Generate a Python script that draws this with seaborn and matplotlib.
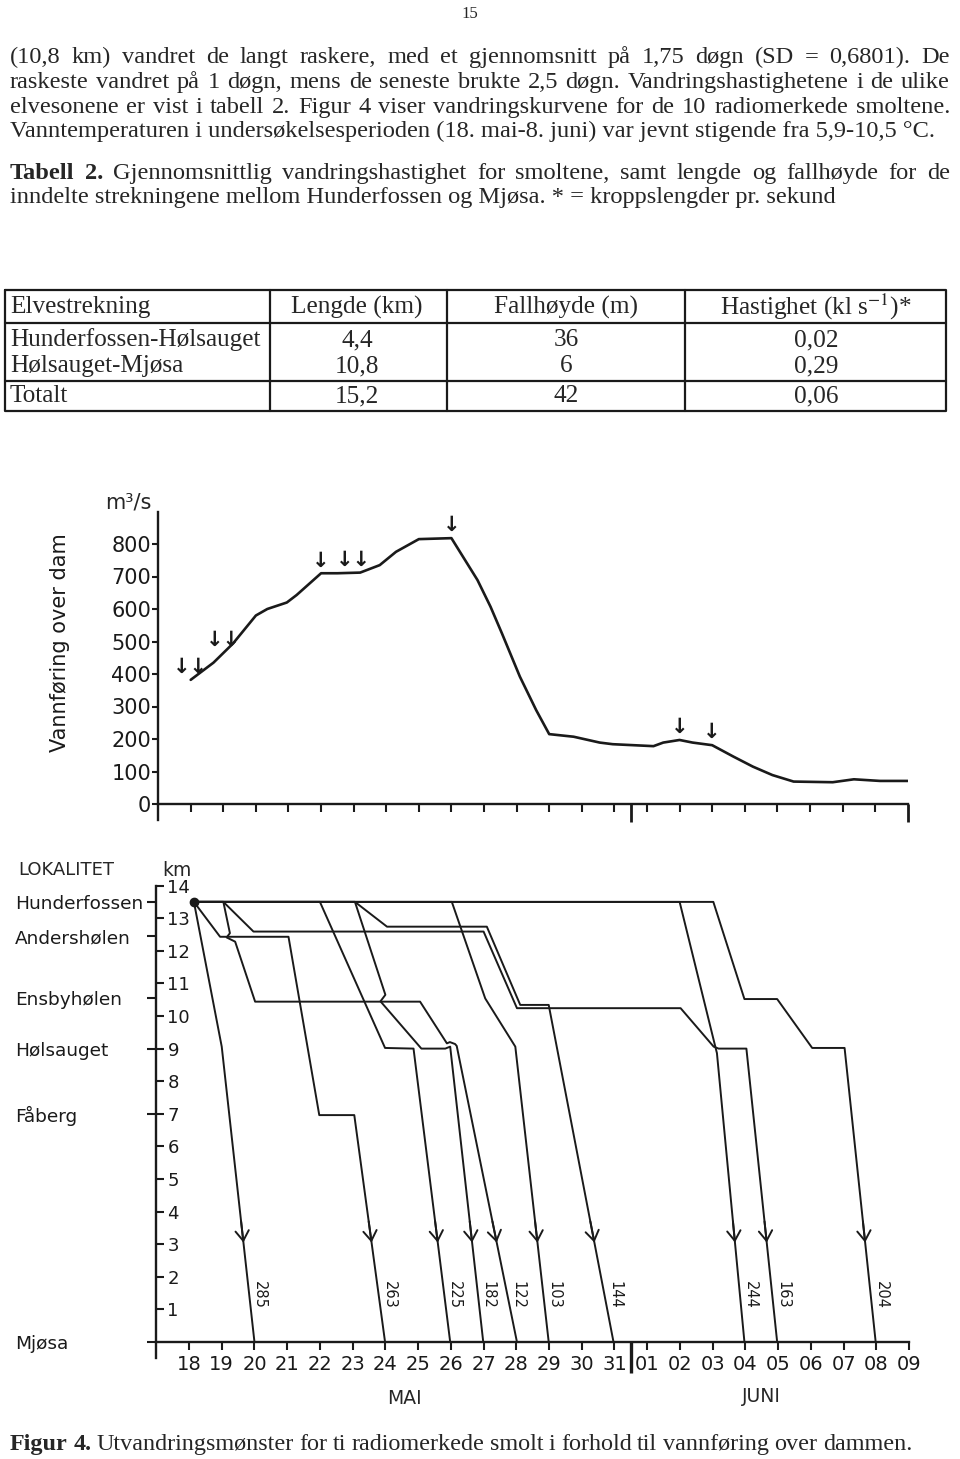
import numpy as np
import matplotlib
matplotlib.use("Agg")
import matplotlib.pyplot as plt
import seaborn as sns

sns.set_theme(style="ticks")
plt.rcParams["font.family"] = ["DejaVu Sans"]
plt.rcParams["mathtext.fontset"] = "stix"

W, H = 960, 1459
SERIF = "Liberation Serif"

# ---- page text ----
page_no = "15"
para_lines = [
    "(10,8 km) vandret de langt raskere, med et gjennomsnitt på 1,75 døgn (SD = 0,6801). De",
    "raskeste vandret på 1 døgn, mens de seneste brukte 2,5 døgn. Vandringshastighetene i de ulike",
    "elvesonene er vist i tabell 2. Figur 4 viser vandringskurvene for de 10 radiomerkede smoltene.",
    "Vanntemperaturen i undersøkelsesperioden (18. mai-8. juni) var jevnt stigende fra 5,9-10,5 °C.",
]
tab_caption = [
    "Tabell 2. Gjennomsnittlig vandringshastighet for smoltene, samt lengde og fallhøyde for de",
    "inndelte strekningene mellom Hunderfossen og Mjøsa. * = kroppslengder pr. sekund",
]
fig_caption = "Figur 4. Utvandringsmønster for ti radiomerkede smolt i forhold til vannføring over dammen."

# ---- table 2 ----
tab_header = ["Elvestrekning", "Lengde (km)", "Fallhøyde (m)", r"Hastighet (kl s$^{-1}$)*"]
strekning = ["Hunderfossen-Hølsauget", "Hølsauget-Mjøsa", "Totalt"]
lengde_km = ["4,4", "10,8", "15,2"]
fallhoyde_m = ["36", "6", "42"]
hastighet = ["0,02", "0,29", "0,06"]

# ---- x axis: day index 0 = 18 mai ... 22 = 09 juni ----
day_labels = ["18", "19", "20", "21", "22", "23", "24", "25", "26", "27", "28", "29", "30", "31",
              "01", "02", "03", "04", "05", "06", "07", "08", "09"]

# ---- discharge over the dam (m3/s) ----
flow_day = [0.0, 0.7, 1.3, 2.0, 2.35, 2.95, 3.25, 4.0, 4.5, 5.2, 5.8, 6.3, 7.0, 8.0, 8.8, 9.2,
            9.55, 10.1, 10.6, 11.0, 11.75, 12.55, 12.95, 14.2, 14.5, 15.0, 15.4, 16.0, 16.65,
            17.25, 17.85, 18.5, 19.7, 20.35, 21.15, 22.0]
flow_m3s = [382, 435, 494, 580, 600, 620, 643, 710, 710, 712, 735, 776, 815, 818, 689, 607,
            525, 392, 289, 215, 207, 189, 184, 178, 189, 197, 189, 181, 146, 115,
            89, 69, 67, 76, 71, 71]

# departures from the dam (arrows on the discharge curve)
dep_day = [0, 1, 4, 5, 8, 15, 16]
dep_count = [2, 2, 1, 2, 1, 1, 1]

# ---- localities ----
loc_names = ["Hunderfossen", "Andershølen", "Ensbyhølen", "Hølsauget", "Fåberg", "Mjøsa"]
loc_km = [13.5, 12.45, 10.55, 9.0, 7.0, 0.0]

# ---- migration tracks of the 10 tagged smolts (day index, km) ----
fish_ids = ["285", "263", "225", "182", "122", "103", "144", "244", "163", "204"]
fish_days = {
    "285": [0.15, 1.0, 2.0],
    "263": [0.15, 0.95, 3.04, 3.98, 5.05, 5.99],
    "225": [0.15, 4.0, 5.99, 6.86, 7.98],
    "182": [0.15, 5.07, 6.0, 5.85, 7.1, 7.83, 7.98, 8.99],
    "122": [0.15, 1.05, 1.25, 1.15, 1.41, 2.02, 7.06, 7.88, 7.97, 8.13, 8.18, 10.02],
    "103": [0.15, 8.03, 9.05, 9.97, 10.99],
    "144": [0.15, 5.07, 6.05, 9.1, 10.12, 10.99, 12.97],
    "244": [0.15, 14.99, 16.08, 16.13, 16.97],
    "163": [0.15, 1.05, 1.97, 9.0, 10.02, 15.02, 16.03, 16.18, 17.03, 17.97],
    "204": [0.15, 16.02, 16.97, 17.97, 19.04, 20.03, 20.98],
}
fish_km = {
    "285": [13.5, 9.06, 0],
    "263": [13.5, 12.43, 12.43, 6.96, 6.96, 0],
    "225": [13.5, 13.5, 9.02, 9.0, 0],
    "182": [13.5, 13.5, 10.65, 10.45, 9.0, 9.0, 9.06, 0],
    "122": [13.5, 13.5, 12.54, 12.41, 12.28, 10.44, 10.44, 9.16, 9.2, 9.14, 9.08, 0],
    "103": [13.5, 13.5, 10.54, 9.06, 0],
    "144": [13.5, 13.5, 12.74, 12.74, 10.34, 10.34, 0],
    "244": [13.5, 13.5, 9.06, 8.86, 0],
    "163": [13.5, 13.5, 12.59, 12.59, 10.24, 10.24, 9.06, 9.0, 9.0, 0],
    "204": [13.5, 13.5, 10.52, 10.52, 9.02, 9.02, 0],
}

fig = plt.figure(figsize=(W / 100, H / 100), dpi=100, facecolor="white")
renderer = fig.canvas.get_renderer()

# full page axes in pixel coordinates for the text and the table
page = fig.add_axes([0, 0, 1, 1], zorder=0)
page.set_xlim(0, W)
page.set_ylim(H, 0)
page.axis("off")


def width_px(s, **kw):
    t = page.text(0, 0, s, **kw)
    w = t.get_window_extent(renderer).width
    t.remove()
    return w


def justify(s, y, x0, x1, fs, n_bold=0):
    words = s.split(" ")
    arts = [page.text(0, y, w, fontsize=fs, family=SERIF, va="baseline",
                      fontweight="bold" if k < n_bold else "normal")
            for k, w in enumerate(words)]
    widths = [a.get_window_extent(renderer).width for a in arts]
    gap = (x1 - x0 - sum(widths)) / (len(words) - 1)
    x = x0
    for a, w in zip(arts, widths):
        a.set_x(x)
        x += w + gap


page.text(470, 18, page_no, fontsize=12, family=SERIF, ha="center", va="baseline")

body_fs = 15 * 930 / width_px(para_lines[3], fontsize=15, family=SERIF)
for k, y in enumerate([63, 88, 113]):
    justify(para_lines[k], y, 10, 950, body_fs)
page.text(10, 137, para_lines[3], fontsize=body_fs, family=SERIF, va="baseline")
justify(tab_caption[0], 179, 10, 950, body_fs, n_bold=2)
page.text(10, 203, tab_caption[1], fontsize=body_fs, family=SERIF, va="baseline")

# table
tab_fs = 16 * 250 / width_px(strekning[0], fontsize=16, family=SERIF)
lw_t = 1.6
page.plot([5, 946, 946, 5, 5], [290, 290, 411, 411, 290], color="k", lw=lw_t)
for xv in [270, 447, 685]:
    page.plot([xv, xv], [290, 411], color="k", lw=lw_t)
for yv in [323, 381]:
    page.plot([5, 946], [yv, yv], color="k", lw=lw_t)
col_x = [10, 357, 566, 816]
page.text(col_x[0], 307, tab_header[0], fontsize=tab_fs, family=SERIF, va="center")
for cx, h in zip(col_x[1:], tab_header[1:]):
    page.text(cx, 307, h, fontsize=tab_fs, family=SERIF, va="center", ha="center")
for ry, s, l, f, v in zip([340, 366, 396], strekning, lengde_km, fallhoyde_m, hastighet):
    page.text(col_x[0], ry, s, fontsize=tab_fs, family=SERIF, va="center")
    page.text(col_x[1], ry, l, fontsize=tab_fs, family=SERIF, va="center", ha="center")
    page.text(col_x[2], ry, f, fontsize=tab_fs, family=SERIF, va="center", ha="center")
    page.text(col_x[3], ry, v, fontsize=tab_fs, family=SERIF, va="center", ha="center")

# figure caption
cap_fs = 16 * 902 / width_px(fig_caption, fontsize=16, family=SERIF)
justify(fig_caption, 1450, 10, 912, cap_fs, n_bold=2)

# ---------------- discharge chart ----------------
ux0, udx = 190.7, 32.59           # px of day 0, px per day
uy0, udy = 804.0, 0.325           # px of 0 m3/s, px per m3/s
u_left = ux0 - udx
u_right = ux0 + 22 * udx
u_bot = uy0 + 50 * udy
u_top = uy0 - 900 * udy
ax1 = fig.add_axes([u_left / W, 1 - u_bot / H, (u_right - u_left) / W, (u_bot - u_top) / H],
                   facecolor="none", zorder=2)
sns.lineplot(x=flow_day, y=flow_m3s, ax=ax1, sort=False, estimator=None, color="k", lw=1.9)
ax1.set_xlim(-1, 22)
ax1.set_ylim(-50, 900)
for side in ["top", "right"]:
    ax1.spines[side].set_visible(False)
ax1.spines["bottom"].set_position(("data", 0))
for sp in ["left", "bottom"]:
    ax1.spines[sp].set_linewidth(1.7)
    ax1.spines[sp].set_color("k")
ax1.set_xticks(range(22))
ax1.set_xticks([13.5, 22], minor=True)
ax1.tick_params(axis="x", which="major", direction="out", length=6, width=1.5,
                color="k", labelbottom=False)
ax1.tick_params(axis="x", which="minor", direction="out", length=13, width=2.0,
                color="k", labelbottom=False)
ax1.set_yticks(range(0, 801, 100))
ax1.tick_params(axis="y", direction="out", length=4.5, width=1.5, pad=0.5,
                labelsize=15, color="k", labelcolor="k")
ax1.set_xlabel("")
ax1.set_ylabel("Vannføring over dam", fontsize=15, color="k")
ax1.yaxis.set_label_coords((70 - u_left) / (u_right - u_left), (u_bot - 643) / (u_bot - u_top))
ax1.text((128 - u_left) / (u_right - u_left), (u_bot - 503) / (u_bot - u_top), "m³/s",
         transform=ax1.transAxes, fontsize=15, ha="center", va="center")
for d, n in zip(dep_day, dep_count):
    q = np.interp(d, flow_day, flow_m3s)
    ax1.annotate("↓" * n, xy=(d, q), xytext=(0, 2), textcoords="offset points",
                 ha="center", va="bottom", fontsize=15, fontweight="bold", color="k")

# ---------------- migration chart ----------------
lx0, ldx = 189.0, 32.73
ly0, ldy = 1342.0, 32.6
l_left = lx0 - ldx
l_right = lx0 + 22 * ldx
l_bot = ly0 + 0.5 * ldy
l_top = ly0 - 14.05 * ldy
ax2 = fig.add_axes([l_left / W, 1 - l_bot / H, (l_right - l_left) / W, (l_bot - l_top) / H],
                   facecolor="none", zorder=2)
for fid in fish_ids:
    d, k = fish_days[fid], fish_km[fid]
    sns.lineplot(x=d, y=k, ax=ax2, sort=False, estimator=None, color="k", lw=1.4)
    d0, k0, d1 = d[-2], k[-2], d[-1]

    def on_line(km, d0=d0, k0=k0, d1=d1):
        return d0 + (d1 - d0) * (k0 - km) / k0

    ax2.annotate("", xy=(on_line(3.05), 3.05), xytext=(on_line(3.7), 3.7),
                 arrowprops=dict(arrowstyle="->,head_length=0.45,head_width=0.3", color="k",
                                 lw=1.4, mutation_scale=16, shrinkA=0, shrinkB=0))
    ax2.text(on_line(1.45) + 0.32, 1.45, fid, rotation=270, ha="center", va="center",
             fontsize=10.5, color="k")
ax2.plot(fish_days["285"][0], fish_km["285"][0], "o", color="k", ms=6)

ax2.set_xlim(-1, 22)
ax2.set_ylim(-0.5, 14.05)
for side in ["top", "right"]:
    ax2.spines[side].set_visible(False)
ax2.spines["bottom"].set_position(("data", 0))
ax2.spines["left"].set_bounds(-0.5, 14)
for sp in ["left", "bottom"]:
    ax2.spines[sp].set_linewidth(1.7)
    ax2.spines[sp].set_color("k")
ax2.set_xticks(range(23), day_labels)
ax2.set_xticks([13.5], minor=True)
ax2.tick_params(axis="x", which="major", direction="out", length=6, width=1.5, pad=3,
                labelsize=14, color="k", labelcolor="k")
ax2.tick_params(axis="x", which="minor", direction="out", length=22, width=2.4, color="k")
ax2.yaxis.remove_overlapping_locs = False
ax2.set_yticks(range(1, 15), [str(v) for v in range(1, 15)])
ax2.set_yticks(loc_km, loc_names, minor=True)
ax2.tick_params(axis="y", which="major", direction="in", length=6, width=1.5, pad=-8,
                labelsize=13, color="k", labelcolor="k")
ax2.tick_params(axis="y", which="minor", direction="out", length=6.5, width=1.5, pad=95,
                labelsize=13.3, color="k", labelcolor="k")
for lab in ax2.get_yticklabels() + ax2.get_yticklabels(minor=True):
    lab.set_horizontalalignment("left")
ax2.set_xlabel("")
ax2.set_ylabel("")
tr = ax2.get_xaxis_transform()
ax2.text(6.58, (l_bot - 1398) / (l_bot - l_top), "MAI", transform=tr, fontsize=13.5,
         ha="center", va="center")
ax2.text(17.5, (l_bot - 1397) / (l_bot - l_top), "JUNI", transform=tr, fontsize=13.5,
         ha="center", va="center")
page.text(18, 870, "LOKALITET", fontsize=13, va="center")
page.text(177, 870, "km", fontsize=13.5, va="center", ha="center")

fig.savefig("out.png", dpi=100, facecolor="white")
